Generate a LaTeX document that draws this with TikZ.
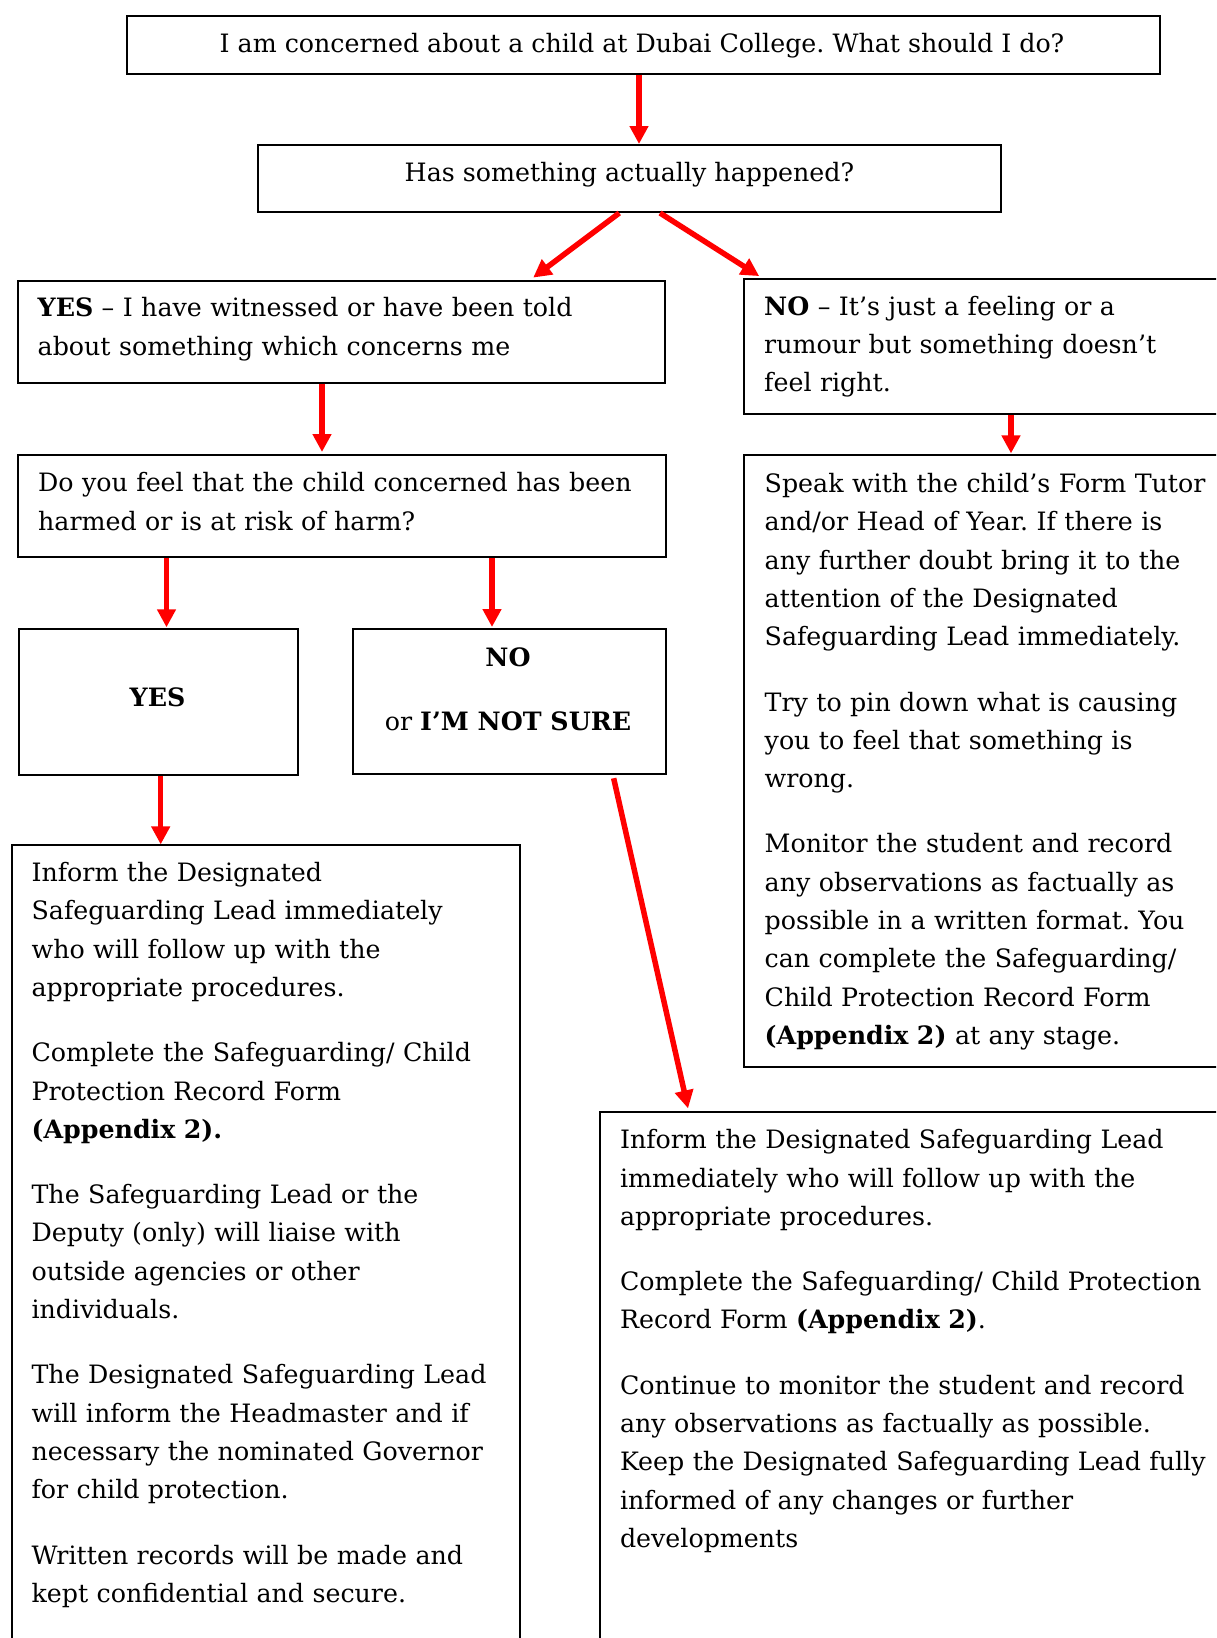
\documentclass[tikz,border=0pt]{standalone}
\usepackage{fontspec}
\setmainfont{DejaVu Serif}
\usetikzlibrary{arrows.meta,calc}
\newcommand{\fsz}{\fontsize{25.3pt}{38.3pt}\selectfont\frenchspacing}
\frenchspacing
\begin{document}
\begin{tikzpicture}[x=1pt,y=-1pt,
  box/.style={draw=black, line width=2pt, inner sep=0pt, anchor=north west},
  txt/.style={inner sep=0pt, anchor=base west, text width=640pt, align=left, font=\fsz},
  ctxt/.style={inner sep=0pt, anchor=base, font=\fsz},
  arr/.style={draw=red, line width=5.5pt, -{Triangle[length=18pt,width=18pt]}}]
\useasboundingbox (0,0) rectangle (1216,1638);
\clip (0,0) rectangle (1216,1638);
\fill[white] (0,0) rectangle (1216,1638);

% boxes
\node[box, minimum width=1033.1pt, minimum height=57.6pt] (top) at (125.5,15) {};
\node[box, minimum width=743.7pt, minimum height=67pt] (q) at (256.7,144) {};
\node[box, minimum width=647pt, minimum height=101.7pt] (yes1) at (17,280) {};
\node[box, minimum width=497pt, minimum height=135.6pt] (no1) at (743,277.7) {};
\node[box, minimum width=648.2pt, minimum height=102pt] (doyou) at (16.5,454) {};
\node[box, minimum width=279pt, minimum height=146pt] (yes2) at (18,628.3) {};
\node[box, minimum width=312.7pt, minimum height=145.3pt] (no2) at (352,628) {};
\node[box, minimum width=497pt, minimum height=611.1pt] (speak) at (743,454.4) {};
\node[box, minimum width=508.8pt, minimum height=820pt] (leftb) at (10.5,844.4) {};
\node[box, minimum width=641pt, minimum height=560pt] (rightb) at (599,1111.3) {};

% texts
\node[ctxt] (topT) at (642,52.7) {I am concerned about a child at Dubai College. What should I do?};
\node[ctxt] (qT) at (629.5,181.7) {Has something actually happened?};
\node[txt] (yes1T) at (37.5,316.7) {\textbf{YES} – I have witnessed or have been told\\
about something which concerns me};
\node[txt] (no1T) at (764,315) {\textbf{NO} – It’s just a feeling or a\\
rumour but something doesn’t\\
feel right.};
\node[txt] (doyouT) at (38,491.7) {Do you feel that the child concerned has been\\
harmed or is at risk of harm?};
\node[ctxt] (yes2T) at (157.5,706.7) {\textbf{YES}};
\node[ctxt] (no2T) at (508,666) {\textbf{NO}};
\node[ctxt] (no2T2) at (508,730) {or \textbf{I’M NOT SURE}};
\node[txt] (speakT) at (764.5,492.5) {Speak with the child’s Form Tutor\\
and/or Head of Year. If there is\\
any further doubt bring it to the\\
attention of the Designated\\
Safeguarding Lead immediately.\\[27pt]
Try to pin down what is causing\\
you to feel that something is\\
wrong.\\[27pt]
Monitor the student and record\\
any observations as factually as\\
possible in a written format. You\\
can complete the Safeguarding/\\
Child Protection Record Form\\
\textbf{(Appendix 2)} at any stage.};
\node[txt] (leftbT) at (31.4,881.5) {Inform the Designated\\
Safeguarding Lead immediately\\
who will follow up with the\\
appropriate procedures.\\[27pt]
Complete the Safeguarding/ Child\\
Protection Record Form\\
\textbf{(Appendix 2).}\\[27pt]
The Safeguarding Lead or the\\
Deputy (only) will liaise with\\
outside agencies or other\\
individuals.\\[27pt]
The Designated Safeguarding Lead\\
will inform the Headmaster and if\\
necessary the nominated Governor\\
for child protection.\\[27pt]
Written records will be made and\\
kept confidential and secure.};
\node[txt] (rightbT) at (619.8,1148.7) {Inform the Designated Safeguarding Lead\\
immediately who will follow up with the\\
appropriate procedures.\\[27pt]
Complete the Safeguarding/ Child Protection\\
Record Form \textbf{(Appendix 2)}.\\[27pt]
Continue to monitor the student and record\\
any observations as factually as possible.\\
Keep the Designated Safeguarding Lead fully\\
informed of any changes or further\\
developments};

% arrows
\draw[arr] ([xshift=513.5pt]top.south west) -- ([xshift=382.3pt]q.north west);
\draw[arr, shorten >=4pt] ([xshift=362.6pt]q.south west) -- ([xshift=513pt]yes1.north west);
\draw[arr, shorten >=3pt] ([xshift=403.3pt]q.south west) -- ([xshift=18.7pt]no1.north west);
\draw[arr, shorten >=2pt] ([xshift=305pt]yes1.south west) -- ([xshift=305.5pt]doyou.north west);
\draw[arr, shorten >=1pt] ([xshift=268pt]no1.south west) -- ([xshift=268pt]speak.north west);
\draw[arr, shorten >=1pt] ([xshift=150pt]doyou.south west) -- ([xshift=148.5pt]yes2.north west);
\draw[arr, shorten >=1pt] ([xshift=475.5pt]doyou.south west) -- ([xshift=140pt]no2.north west);
\draw[arr] ([xshift=142.7pt]yes2.south west) -- ([xshift=150.2pt]leftb.north west);
\draw[arr, shorten <=3pt, shorten >=3pt] ([xshift=261pt]no2.south west) -- ([xshift=89.7pt]rightb.north west);
\end{tikzpicture}
\end{document}
